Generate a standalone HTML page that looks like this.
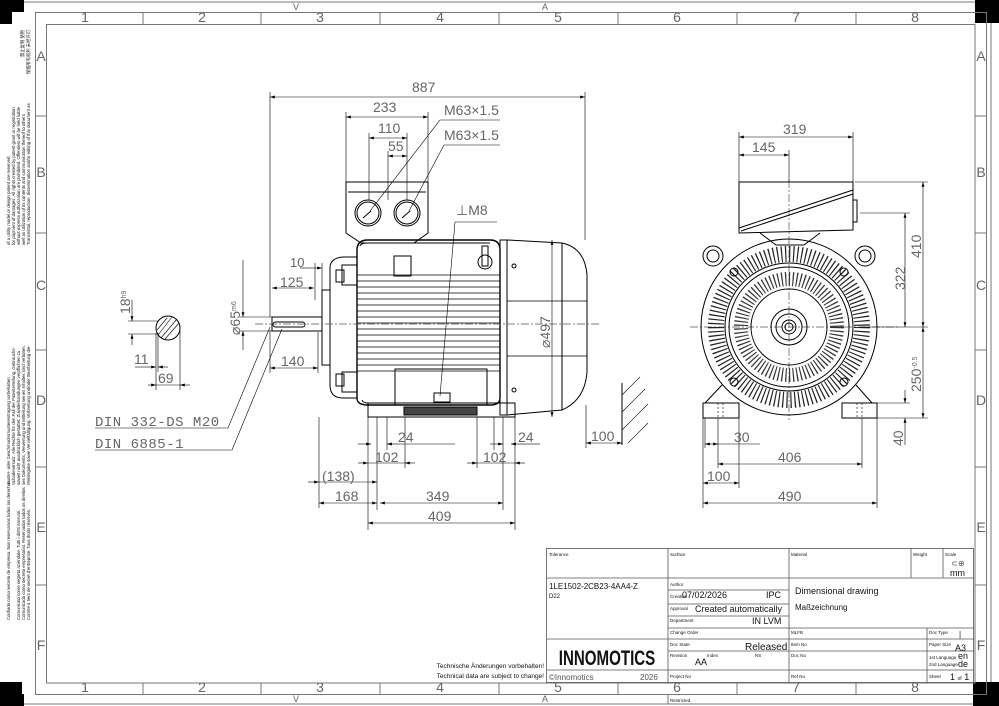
<!DOCTYPE html>
<html><head><meta charset="utf-8"><style>
html,body{margin:0;padding:0;background:#fff}
svg{display:block}
.d{font-family:"Liberation Sans",sans-serif;fill:#666;font-size:14px}
.t{font-family:"Liberation Sans",sans-serif;fill:#111}
</style></head><body>
<svg width="999" height="706" viewBox="0 0 999 706" xmlns="http://www.w3.org/2000/svg">
<defs>
<marker id="a" viewBox="0 0 10 6" refX="10" refY="3" markerWidth="8" markerHeight="5" orient="auto-start-reverse"><path d="M0,0L10,3L0,6z" fill="#000"/></marker>
</defs>
<rect x="0" y="0" width="24" height="12" fill="#000"/><rect x="0" y="0" width="12" height="24" fill="#000"/>
<rect x="975" y="0" width="24" height="23" fill="#000"/>
<rect x="0" y="682" width="22" height="24" fill="#000"/><rect x="0" y="694" width="24" height="12" fill="#000"/>
<rect x="973" y="682" width="26" height="24" fill="#000"/>
<g fill="none" stroke="#777" stroke-width="1">
<line x1="24" y1="2" x2="975" y2="2"/><line x1="24" y1="704" x2="973" y2="704"/>
<line x1="991" y1="23" x2="991" y2="682"/>
<rect x="35.5" y="12.5" width="951" height="682"/>
<rect x="46.5" y="24.5" width="928.5" height="658.5"/>
<path d="M143 12v12M261 12v12M380 12v12M499 12v12M618 12v12M737 12v12M856 12v12"/>
<path d="M143 683v12M261 683v12M380 683v12M499 683v12M618 683v12M737 683v12M856 683v12"/>
<path d="M35 116h11M35 233h11M35 350h11M35 467h11M35 585h11"/>
<path d="M975 116h11M975 233h11M975 350h11M975 467h11M975 585h11"/>
<line x1="668" y1="695" x2="668" y2="704"/>
</g>
<g class="d" font-size="11" text-anchor="middle">
<text x="85" y="22">1</text><text x="202" y="22">2</text><text x="320" y="22">3</text><text x="440" y="22">4</text><text x="558" y="22">5</text><text x="677" y="22">6</text><text x="796" y="22">7</text><text x="915" y="22">8</text>
<text x="85" y="692">1</text><text x="202" y="692">2</text><text x="320" y="692">3</text><text x="440" y="692">4</text><text x="558" y="692">5</text><text x="677" y="692">6</text><text x="796" y="692">7</text><text x="915" y="692">8</text>
<text x="41" y="61">A</text><text x="41" y="177">B</text><text x="41" y="290">C</text><text x="41" y="405">D</text><text x="41" y="532">E</text><text x="41" y="650">F</text>
<text x="981" y="61">A</text><text x="981" y="177">B</text><text x="981" y="290">C</text><text x="981" y="405">D</text><text x="981" y="532">E</text><text x="981" y="650">F</text>
<text x="296" y="10" font-size="9">V</text><text x="545" y="10" font-size="9">A</text><text x="296" y="702" font-size="9">V</text><text x="545" y="702" font-size="9">A</text>
</g>
<g class="t" font-size="4.3" fill="#333">
<text transform="translate(30,30) rotate(-90)" text-anchor="end">保留所有权利 未经许可</text>
<text transform="translate(24,30) rotate(-90)" text-anchor="end">禁止复制 使用</text>
<text transform="translate(30,245) rotate(-90)">Transmittal, reproduction, dissemination and/or editing of this document as</text>
<text transform="translate(25,245) rotate(-90)">well as utilization of its contents and communication thereof to others</text>
<text transform="translate(20,245) rotate(-90)">without express authorization are prohibited. Offenders will be held liable</text>
<text transform="translate(15,245) rotate(-90)">for payment of damages. All rights created by patent grant or registration</text>
<text transform="translate(10,245) rotate(-90)">of a utility model or design patent are reserved.</text>
<text transform="translate(30,485) rotate(-90)">Weitergabe sowie Vervielfältigung, Verbreitung und/oder Bearbeitung die-</text>
<text transform="translate(25,485) rotate(-90)">ses Dokuments, Verwertung und Mitteilung seines Inhaltes sind verboten,</text>
<text transform="translate(20,485) rotate(-90)">soweit nicht ausdrücklich gestattet. Zuwiderhandlungen verpflichten zu</text>
<text transform="translate(15,485) rotate(-90)">Schadenersatz. Alle Rechte für den Fall der Patenterteilung, Gebrauchs-</text>
<text transform="translate(10,485) rotate(-90)">muster- oder Geschmacksmustereintragung vorbehalten.</text>
<text transform="translate(30,620) rotate(-90)">Cornite à tiers de secret d'entreprise. Tous droits réservés.</text>
<text transform="translate(25,620) rotate(-90)">Comunicado como secreto empresarial. Reservados todos os direitos.</text>
<text transform="translate(20,620) rotate(-90)">Comunicato come segreto aziendale. Tutti i diritti riservati.</text>
<text transform="translate(10,620) rotate(-90)">Confiado como secreto de empresa. Nos reservamos todos los derechos.</text>
</g>

<g fill="none" stroke="#000" stroke-width="1">
<path d="M346 182H428V233L414 243H361L346 233Z"/>
<line x1="348" y1="192" x2="426" y2="192"/>
<circle cx="368" cy="213" r="13"/><circle cx="368" cy="213" r="11"/>
<circle cx="407" cy="213" r="13"/><circle cx="407" cy="213" r="11"/>
<path d="M363 218l8-7M402 218l8-7"/>
<path d="M357 250Q357 240 368 240H490Q500 240 500 250V398Q500 405 490 405H368Q357 405 357 398Z" stroke-width="1.4"/>
<path d="M360 246Q361 243 368 243H490M362 400Q363 403 368 403"/>
<path d="M357 275H500M357 281H500M357 287H500M357 293H500M357 299H500M357 305H500M357 311H500M357 317H500M357 323H500M357 329H500M357 335H500M357 341H500M357 347H500M357 353H500M357 359H500M357 365H500M357 371H500" stroke-width="0.8"/>
<rect x="394" y="256" width="17" height="20"/>
<rect x="395" y="369" width="92" height="36"/>
<rect x="434" y="393" width="16" height="9"/>
<circle cx="485" cy="262" r="7"/><rect x="482" y="246" width="6" height="20"/>
<path d="M357 257H343Q330 258 330 268V385Q330 398 343 398H357"/>
<rect x="342" y="265" width="15" height="20"/><rect x="342" y="372" width="15" height="20"/>
<rect x="336" y="270" width="8" height="12"/><rect x="336" y="374" width="8" height="12"/>
<path d="M330 290H322V365H330"/>
<rect x="272" y="317" width="50" height="14"/>
<rect x="273" y="322" width="32" height="5" rx="2.5"/>
<path d="M500 240H507L562 243Q585 248 587 275V372Q585 400 562 410L507 415H500Z"/>
<line x1="507" y1="240" x2="507" y2="415"/><line x1="562" y1="243" x2="562" y2="410"/>
<path d="M507 301H587M507 356H587" stroke-width="0.8"/>
<circle cx="514" cy="266" r="2"/><circle cx="514" cy="390" r="2"/>
<rect x="368" y="403" width="147" height="14"/>
<rect x="404" y="407" width="73" height="8" fill="#444"/>
</g>
<g fill="none" stroke="#555" stroke-width="0.7" stroke-dasharray="8 2 2 2">
<line x1="255" y1="324" x2="600" y2="324"/>
<line x1="690" y1="327" x2="900" y2="327"/><line x1="789" y1="180" x2="789" y2="420"/>
</g>
<g stroke="#000" stroke-width="0.6" fill="none">
<path d="M270 97H585" marker-start="url(#a)" marker-end="url(#a)"/>
<path d="M270 92V317M585 92V240"/>
<path d="M346 117H428" marker-start="url(#a)" marker-end="url(#a)"/><path d="M346 112V182M428 112V182"/>
<path d="M369 138H407" marker-start="url(#a)" marker-end="url(#a)"/><path d="M369 133V200M407 133V200"/>
<path d="M388 156H407" marker-start="url(#a)" marker-end="url(#a)"/><path d="M388 151V200"/>
<path d="M370 211L440 120H500M409 211L444 145H500"/>
<path d="M455 222H497M455 222L440 396"/>
<path d="M552 240V417" marker-start="url(#a)" marker-end="url(#a)"/>
<path d="M315 268H322" marker-end="url(#a)"/><path d="M300 268H315"/><path d="M322 263V290M315 263V300"/>
<path d="M272 288H314" marker-start="url(#a)" marker-end="url(#a)"/>
<path d="M270 368H318" marker-start="url(#a)" marker-end="url(#a)"/><path d="M270 330V373M318 332V373"/>
<path d="M243 260V317" marker-end="url(#a)"/><path d="M243 331V350" marker-start="url(#a)"/><path d="M240 317H272M240 331H272"/>
<path d="M368 417V530M515 417V530M377 417V510M503 417V510M387 417V450M494 417V450M405 417V468M477 417V468"/>
<path d="M358 444H371" marker-end="url(#a)"/><path d="M387 444H400" marker-start="url(#a)"/><path d="M400 444H455"/>
<path d="M490 444H503" marker-end="url(#a)"/><path d="M511 444H525" marker-start="url(#a)"/><path d="M525 444H540"/>
<path d="M358 463H368" marker-end="url(#a)"/><path d="M405 463H415" marker-start="url(#a)"/><path d="M368 463H405"/>
<path d="M467 463H477" marker-end="url(#a)"/><path d="M515 463H525" marker-start="url(#a)"/><path d="M477 463H515"/>
<path d="M308 482H319" marker-end="url(#a)"/><path d="M319 482H377" marker-end="url(#a)"/>
<path d="M319 503H377" marker-start="url(#a)" marker-end="url(#a)"/><path d="M380 503H503" marker-start="url(#a)" marker-end="url(#a)"/>
<path d="M319 417V508"/>
<path d="M368 523H515" marker-start="url(#a)" marker-end="url(#a)"/>
<path d="M586 443H622" marker-start="url(#a)" marker-end="url(#a)"/><path d="M586 405V448"/>
<path d="M622 383V445" stroke-width="1"/>
<path d="M622 395L640 377M622 412L645 389M622 430L648 404M628 443L648 423" />
<path d="M95 428H228L270 327M95 450H232L282 329"/>
<circle cx="168" cy="328" r="12" stroke-width="1"/>
<path d="M158 335L172 317M161 338L177 319M165 339L179 323M157 330L167 318" stroke-width="0.6"/>
<path d="M132 300V321" marker-end="url(#a)"/><path d="M132 334V345" marker-start="url(#a)"/><path d="M128 321H158M128 334H158"/>
<path d="M156 333V390M158 333V372M180 330V390"/>
<path d="M135 367H148" /><path d="M148 367H156" marker-end="url(#a)"/><path d="M158 367H168" marker-start="url(#a)"/>
<path d="M148 385H156" marker-end="url(#a)"/><path d="M156 385H180"/><path d="M180 385H190" marker-start="url(#a)"/>
</g>
<g class="d">
<text x="412" y="92">887</text>
<text x="373" y="112">233</text>
<text x="378" y="133">110</text>
<text x="388" y="151">55</text>
<text x="444" y="115">M63×1.5</text>
<text x="444" y="140">M63×1.5</text>
<text x="456" y="215">⊥M8</text>
<text x="290" y="267" font-size="13">10</text>
<text x="280" y="287">125</text>
<text x="281" y="366">140</text>
<text transform="translate(550,348) rotate(-90)">⌀497</text>
<text transform="translate(240,335) rotate(-90)">⌀65<tspan font-size="7" dy="-4">m6</tspan></text>
<text transform="translate(130,314) rotate(-90)">18<tspan font-size="7" dy="-4">h9</tspan></text>
<text x="134" y="364">11</text>
<text x="158" y="383">69</text>
<text x="95" y="426" font-family="Liberation Mono" letter-spacing="0.5">DIN 332-DS M20</text>
<text x="95" y="448" font-family="Liberation Mono" letter-spacing="0.5">DIN 6885-1</text>
<text x="398" y="442">24</text><text x="518" y="442">24</text>
<text x="375" y="462">102</text><text x="483" y="462">102</text>
<text x="322" y="481">(138)</text>
<text x="335" y="501">168</text><text x="426" y="501">349</text><text x="428" y="521">409</text>
<text x="591" y="441">100</text>
</g>

<g fill="none" stroke="#000" stroke-width="1">
<path d="M739 182H853V230L739 233Z"/>
<path d="M739 228L853 190M741 231L853 194"/>
<rect x="853" y="200" width="4" height="22"/>
<path d="M760 233L776 245H804L820 233"/>
<circle cx="713" cy="256" r="10"/><circle cx="713" cy="256" r="6"/>
<circle cx="865" cy="256" r="10"/><circle cx="865" cy="256" r="6"/>
<circle cx="789" cy="327" r="88" stroke-width="1"/>
<circle cx="789" cy="327" r="73" stroke-dasharray="1.2 2.8" stroke-width="16" stroke="#222"/>
<circle cx="789" cy="327" r="64"/>
<circle cx="789" cy="327" r="60"/>
<circle cx="789" cy="327" r="48" stroke-dasharray="1.2 2.5" stroke-width="14" stroke="#333"/>
<circle cx="789" cy="327" r="38"/>
<circle cx="789" cy="327" r="18"/><circle cx="789" cy="327" r="13"/><circle cx="789" cy="327" r="7"/><circle cx="789" cy="327" r="4"/>
<circle cx="734" cy="272" r="4"/><circle cx="844" cy="272" r="4"/><circle cx="734" cy="382" r="4"/><circle cx="844" cy="382" r="4"/>
<path d="M722 385L705 403M856 385L872 403"/>
<rect x="703" y="403" width="36" height="15"/><rect x="842" y="403" width="35" height="15"/>
<path d="M718 403V418M723 403V418M857 403V418M862 403V418" stroke-dasharray="2 2" stroke-width="0.6"/>
</g>
<g stroke="#000" stroke-width="0.6" fill="none">
<path d="M739 137H853" marker-start="url(#a)" marker-end="url(#a)"/><path d="M739 132V182M853 132V182"/>
<path d="M739 155H789" marker-start="url(#a)" marker-end="url(#a)"/><path d="M789 150V182"/>
<path d="M905 213V327" marker-start="url(#a)" marker-end="url(#a)"/><path d="M860 213H910"/>
<path d="M923 182V327" marker-start="url(#a)" marker-end="url(#a)"/><path d="M855 182H928M860 327H928"/>
<path d="M923 327V418" marker-start="url(#a)" marker-end="url(#a)"/><path d="M877 418H928M877 403H910"/>
<path d="M905 390V403" marker-end="url(#a)"/><path d="M905 418V445" marker-start="url(#a)"/>
<path d="M703 418V508M877 418V508M739 418V488M718 418V468M862 418V468M705 418V448"/>
<path d="M705 444H718" marker-start="url(#a)" marker-end="url(#a)"/><path d="M718 444H760"/>
<path d="M718 464H862" marker-start="url(#a)" marker-end="url(#a)"/>
<path d="M703 483H739" marker-start="url(#a)" marker-end="url(#a)"/>
<path d="M703 503H877" marker-start="url(#a)" marker-end="url(#a)"/>
</g>
<g class="d">
<text x="783" y="134">319</text><text x="752" y="152">145</text>
<text transform="translate(905,290) rotate(-90)">322</text>
<text transform="translate(921,258) rotate(-90)">410</text>
<text transform="translate(921,392) rotate(-90)">250<tspan font-size="7" dy="-4">-0.5</tspan></text>
<text transform="translate(903,446) rotate(-90)">40</text>
<text x="734" y="442">30</text><text x="778" y="462">406</text>
<text x="707" y="481">100</text><text x="778" y="501">490</text>
</g>

<g fill="none" stroke="#555" stroke-width="0.8">
<rect x="546.5" y="548.5" width="427" height="134"/>
<path d="M668 548V683M789 548V683M911 548V578M943 548V578M547 578H974M547 639H668M547 670H668"/>
<path d="M668 590H789M668 604H789M668 616H789M668 628H974M668 639H974M668 651H789M668 670H974M789 651H974M927 628V683"/>
</g>
<g class="t" font-size="4.5" fill="#333">
<text x="549" y="556">Tolerance</text><text x="670" y="556">Surface</text><text x="791" y="556">Material</text><text x="913" y="556">Weight</text><text x="945" y="556">Scale</text>
<text x="670" y="586">Author</text><text x="670" y="598">Creation</text><text x="670" y="610">Approval</text><text x="670" y="622">Department</text>
<text x="670" y="634">Change Order</text><text x="791" y="634">MLFB</text><text x="929" y="634">Doc Type</text>
<text x="670" y="646">Doc State</text><text x="791" y="646">Item No</text><text x="929" y="646">Paper Size</text>
<text x="670" y="657">Revision</text><text x="707" y="657">Index</text><text x="755" y="657">RS</text><text x="791" y="657">Doc No</text>
<text x="929" y="659">1st Language</text><text x="929" y="666">2nd Language</text>
<text x="670" y="678">Project No</text><text x="791" y="678">Ref No</text><text x="929" y="678">Sheet</text>
<text x="670" y="702">Restricted</text>
</g>
<g class="t">
<text x="958" y="566" font-size="8" text-anchor="middle" fill="#555">⊂⊕</text>
<text x="950" y="576" font-size="9">mm</text>
<text x="549" y="589" font-size="8">1LE1502-2CB23-4AA4-Z</text>
<text x="549" y="598" font-size="6">D22</text>
<text x="682" y="598" font-size="9">07/02/2026</text><text x="766" y="598" font-size="9">IPC</text>
<text x="695" y="612" font-size="9">Created automatically</text>
<text x="752" y="624" font-size="9">IN LVM</text>
<text x="795" y="594" font-size="9">Dimensional drawing</text>
<text x="795" y="610" font-size="8">Maßzeichnung</text>
<text x="959" y="637" font-size="8">|</text>
<text x="745" y="650" font-size="10">Released</text>
<text x="695" y="665" font-size="9">AA</text>
<text x="955" y="651" font-size="9">A3</text>
<text x="958" y="659" font-size="9">en</text><text x="958" y="667" font-size="9">de</text>
<text x="950" y="680" font-size="9">1 <tspan font-size="5">of</tspan> 1</text>
<text font-size="21" font-weight="bold" text-anchor="middle" transform="translate(607,665) scale(0.72,1)">INNOMOTICS</text>
<text x="549" y="680" font-size="8" fill="#555">©Innomotics</text>
<text x="640" y="680" font-size="8" fill="#555">2026</text>
<text x="544" y="668" font-size="6.5" text-anchor="end">Technische Änderungen vorbehalten!</text>
<text x="544" y="678" font-size="6.5" text-anchor="end">Technical data are subject to change!</text>
</g>
</svg>
</body></html>
